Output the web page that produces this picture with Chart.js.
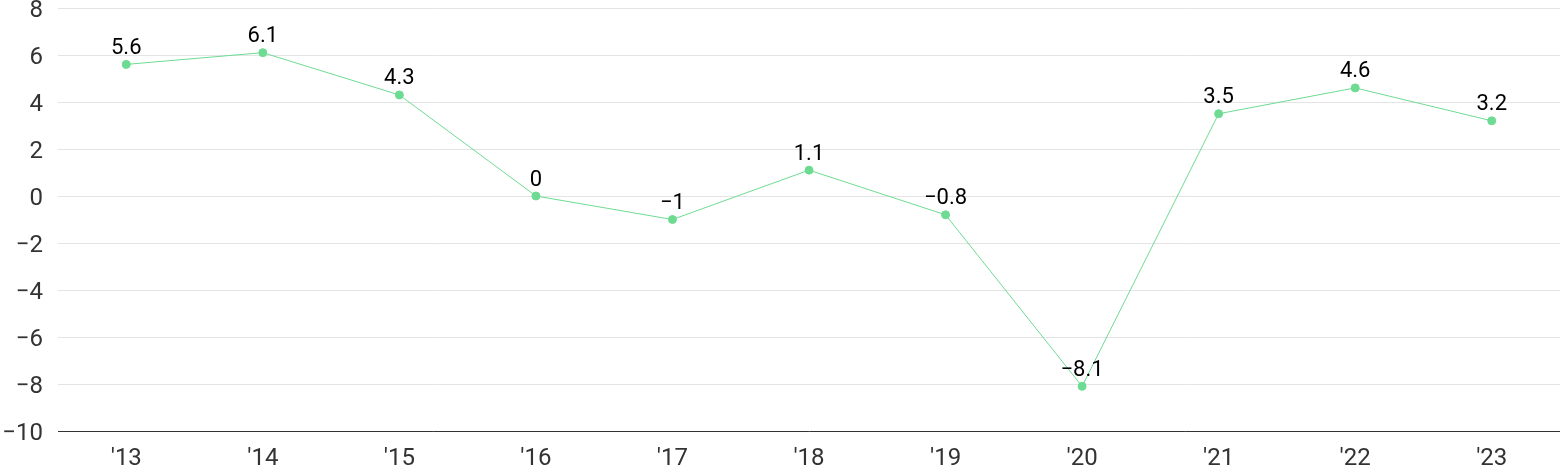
<!DOCTYPE html>
<html>
<head>
<meta charset="utf-8">
<script src="https://cdn.jsdelivr.net/npm/chart.js@4"></script>
<style>
  html, body { margin: 0; padding: 0; background: #fff; overflow: hidden; }
  #wrap { width: 1560px; height: 471px; }
  canvas { display: block; }
</style>
</head>
<body>
<div id="wrap"><canvas id="growthChart"></canvas></div>
<script>
const years = ["'13", "'14", "'15", "'16", "'17", "'18", "'19", "'20", "'21", "'22", "'23"];
const growth = [5.6, 6.1, 4.3, 0, -1, 1.1, -0.8, -8.1, 3.5, 4.6, 3.2];
const yTicks = [-10, -8, -6, -4, -2, 0, 2, 4, 6, 8];

const minus = v => String(v).replace('-', '\u2212');

// simple value labels above each point
const valueLabels = {
    id: 'valueLabels',
    afterDatasetsDraw(chart) {
        const ctx = chart.ctx;
        const meta = chart.getDatasetMeta(0);
        ctx.save();
        ctx.font = '22px Roboto';
        ctx.fillStyle = '#000';
        ctx.textAlign = 'center';
        ctx.textBaseline = 'bottom';
        meta.data.forEach((pt, i) => {
            ctx.fillText(minus(growth[i]), pt.x, pt.y - 5);
        });
        ctx.restore();
    }
};

new Chart(document.getElementById('growthChart'), {
    type: 'line',
    data: {
        labels: years,
        datasets: [{
            data: growth,
            borderColor: '#6ddb92',
            backgroundColor: '#6ddb92',
            borderWidth: 1,
            pointRadius: 4,
            pointHoverRadius: 4,
            tension: 0
        }]
    },
    options: {
        responsive: true,
        maintainAspectRatio: false,
        animation: false,
        layout: { autoPadding: false },
        plugins: {
            legend: { display: false },
            tooltip: { enabled: false }
        },
        scales: {
            x: {
                offset: true,
                grid: { display: false, drawTicks: false },
                border: { color: '#333', width: 1 },
                ticks: { color: '#333', font: { family: 'Roboto', size: 24 }, padding: 14 },
                afterFit: axis => { axis.height = 40; axis.paddingRight = 0; axis.paddingLeft = 0; }
            },
            y: {
                min: -10,
                max: 8,
                afterBuildTicks: axis => { axis.ticks = yTicks.map(v => ({ value: v })); },
                afterFit: axis => { axis.width = 58; axis.paddingTop = 8; },
                grid: { color: '#e4e4e4', drawTicks: false },
                border: { display: false },
                ticks: {
                    color: '#333',
                    font: { family: 'Roboto', size: 24 },
                    padding: 15,
                    labelOffset: 3,
                    callback: v => minus(v)
                }
            }
        }
    },
    plugins: [valueLabels]
});
</script>
</body>
</html>
